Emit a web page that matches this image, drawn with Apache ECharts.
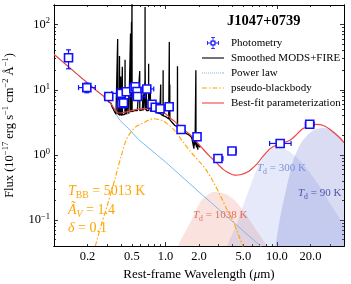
<!DOCTYPE html>
<html><head><meta charset="utf-8">
<script src="https://cdn.jsdelivr.net/npm/echarts@6/dist/echarts.min.js"></script>
<style>html,body{margin:0;padding:0;background:#fff}#c{width:351px;height:284px}</style>
</head><body><div id="c"></div>
<script>
// ---------- data ----------
const xTickLabels = [0.2, 0.5, 1, 2, 5, 10, 20];
const yTickLabels = [0.1, 1, 10, 100];

const specWave = [
 0.280,0.285,0.290,0.295,0.300,0.305,0.310,0.315,0.320,0.325,
 0.330,0.335,0.340,0.345,0.350,0.355,0.360,0.365,0.3705,0.3718,
 0.3727,0.3736,0.3760,0.3790,0.3798,0.3806,0.3827,0.3835,0.3843,0.3860,
 0.3869,0.3878,0.3889,0.3900,0.3930,0.3960,0.3969,0.3978,0.4015,0.4026,
 0.4037,0.4090,0.4102,0.4114,0.4180,0.4250,0.4330,0.4340,0.4350,0.4363,
 0.4375,0.4450,0.4471,0.4490,0.4580,0.4676,0.4686,0.4696,0.4780,0.4849,
 0.4861,0.4873,0.4946,0.4959,0.4972,0.4990,0.5007,0.5024,0.5100,0.5200,
 0.5300,0.5400,0.5500,0.5600,0.5700,0.5800,0.5864,0.5876,0.5888,0.6000,
 0.6100,0.6200,0.6285,0.6300,0.6315,0.6400,0.6530,0.6548,0.6553,0.6563,
 0.6575,0.6583,0.6595,0.6650,0.6706,0.6716,0.6724,0.6731,0.6741,0.6850,
 0.6950,0.7052,0.7065,0.7078,0.7150,0.7310,0.7325,0.7340,0.7500,0.7700,
 0.7900,0.8100,0.8300,0.8500,0.8700,0.8900,0.9053,0.9069,0.9085,0.9250,
 0.9400,0.9515,0.9531,0.9547,0.9700,0.9900,1.0100,1.0300,1.0500,1.0700,
 1.0810,1.0830,1.0850,1.0918,1.0938,1.0958,1.1100,1.1300,1.1500,1.1700,
 1.1900,1.2100,1.2300,1.2500,1.2795,1.2820,1.2845,1.3000,1.3200,1.3400,
 1.3600,1.4000,1.4400,1.4800,1.5200,1.5600,1.6000,1.6400,1.6800,1.7200,
 1.7500,1.7800,1.8000,1.8100,1.8300,1.8450,1.8700,1.8751,1.8800,1.9000,
 1.9100,1.9300,1.9500,1.9600,1.9900,2.0200,2.0500];
const specFlux = [
 7.5,7.8,7.2,7.4,6.9,7.1,6.5,6.7,6.1,6.2,
 5.6,5.7,5.1,4.9,4.6,4.4,4.2,4.3,4.1,4.2,
 60,4.2,4.0,4.1,7,4.1,4.1,9,4.1,4.1,
 33,4.1,12,4.0,4.0,4.1,16,4.1,4.0,7,
 4.0,4.1,22.5,4.1,4.1,4.2,4.2,29,4.2,9,
 4.2,4.2,7,4.2,4.3,4.3,8,4.3,4.4,4.5,
 73,4.5,4.6,110,4.6,4.6,300,4.6,4.7,4.7,
 4.8,4.7,4.8,4.8,4.8,4.8,4.8,19.4,4.8,4.9,
 4.8,4.9,4.8,8.5,4.8,4.9,4.9,14,5.3,186,
 6,20,4.9,4.9,4.8,11,6,9,4.8,4.8,
 4.8,4.8,25,4.8,4.8,4.7,10,4.7,4.7,4.7,
 4.6,4.6,4.5,4.4,4.3,4.3,4.2,12,4.2,4.1,
 4.1,4.0,20,4.0,3.9,3.85,3.85,3.75,3.65,3.55,
 3.55,54,3.55,3.55,12,3.45,3.35,3.25,3.15,3.05,
 2.95,2.85,2.85,2.75,2.7,23,2.7,2.65,2.6,2.5,
 2.45,2.35,2.3,2.25,2.15,2.1,2.05,2.0,1.95,1.85,
 1.8,1.75,1.25,1.7,1.4,1.65,1.6,20,1.6,1.3,
 1.55,1.5,1.2,1.45,1.4,1.35,1.3];

const plWave = [0.1, 0.2, 0.28, 0.33, 0.345, 0.39, 0.47, 0.574, 1.0, 2.0, 5.0, 7.1, 10];
const plFlux = [35, 12.7, 7.9, 5.9, 4.7, 3.4, 2.5, 1.72, 0.78, 0.27, 0.068, 0.04, 0.024];

const bbWave = [0.22,0.235,0.26,0.3,0.355,0.4,0.445,0.5,0.55,0.636,0.7,0.78,0.9,1.03,1.2,1.45,1.7,2.0,2.3,2.7,3.1,3.6,4.0,4.6,5.0,5.5];
const bbFlux = [0.028,0.04,0.075,0.165,0.45,0.95,1.7,2.35,2.75,3.1,3.4,3.6,3.45,3.05,2.4,1.55,1.1,0.8,0.6,0.38,0.24,0.14,0.1,0.055,0.038,0.025];

const bfWave = [0.1,0.15,0.2,0.25,0.28,0.30,0.32,0.34,0.36,0.38,0.40,0.45,0.5,0.55,0.6,0.65,0.7,0.8,0.9,1.0,1.1,1.2,1.3,1.45,1.67,1.9,2.2,2.5,2.7,3.0,3.3,3.7,4.2,4.8,5.5,6.0,6.6,7.5,8.7,10,11,13.2,15,16.2,18,20,22,24.5,27,30,34,37,40];
const bfFlux = [35,19.3,12.7,9.2,7.9,7.2,6.3,5.4,4.7,4.4,4.4,4.6,4.8,5.0,5.1,5.15,5.1,4.9,4.6,4.3,3.7,3.3,2.9,2.45,2.05,1.6,1.2,0.95,0.84,0.70,0.60,0.53,0.49,0.50,0.55,0.62,0.72,0.95,1.25,1.42,1.5,1.7,2.05,2.35,2.65,2.85,2.95,2.92,2.75,2.45,2.05,1.8,1.55];

const d1038Wave = [1.1,1.3,1.66,2.05,2.4,2.7,3.1,3.57,4.2,4.7,5.5,6.2,7.2,8.1,9.5];
const d1038Flux = [0.015,0.04,0.09,0.19,0.245,0.27,0.265,0.245,0.2,0.16,0.11,0.08,0.055,0.04,0.025];
const d300Wave = [3.0,3.57,4.4,5.0,5.77,6.6,7.5,8.7,9.7,11,13,15,17.5,20,25,30,35,40,45];
const d300Flux = [0.015,0.04,0.09,0.17,0.33,0.6,0.9,1.22,1.3,1.28,1.12,0.92,0.7,0.52,0.3,0.18,0.12,0.08,0.06];
const d90Wave = [9.0,9.7,10.7,12.3,14.1,16.2,19,22,26,30,35,40,45];
const d90Flux = [0.02,0.04,0.11,0.33,0.85,1.45,2.05,2.45,2.6,2.5,2.1,1.6,1.2];

const photWave = [0.135,0.197,0.31,0.405,0.42,0.40,0.445,0.52,0.535,0.555,0.56,0.68,0.757,0.81,0.895,1.08,1.38,1.92,2.96,3.95,10.7,19.7];
const photFlux = [31,10.8,7.9,6.1,6.3,8.8,9.3,10.5,11.1,9.4,7.9,10.3,6.0,5.4,5.1,5.5,2.45,1.9,0.88,1.15,1.5,2.95];
const photWaveLo = [0.13,0.166,0.297,0.392,0.407,0.33,0.43,0.505,0.515,0.535,0.47,0.615,0.735,0.79,0.87,1.05,1.33,1.84,2.76,3.76,8.6,18.0];
const photWaveHi = [0.14,0.235,0.323,0.418,0.433,0.46,0.46,0.535,0.555,0.575,0.66,0.785,0.78,0.83,0.92,1.11,1.43,2.0,3.28,4.32,13.4,21.6];
const photFluxLo = [21,9.0,7.4,5.8,6.0,8.4,8.8,10.0,10.5,9.0,7.5,9.8,5.7,5.1,4.8,5.2,2.3,1.8,0.83,1.09,1.45,2.85];
const photFluxHi = [41,12.6,8.4,6.4,6.6,9.2,9.8,11.0,11.7,9.8,8.3,10.8,6.3,5.7,5.4,5.8,2.6,2.0,0.93,1.21,1.55,3.05];

// ---------- chart ----------
const F = 'Liberation Serif';
const xMin = 0.1, xMax = 40, yMin = 0.04, yMax = 200;
const xMajorTicks = [0.1, 1, 10];
const xMinorTicks = [0.2,0.3,0.4,0.5,0.6,0.7,0.8,0.9,2,3,4,5,6,7,8,9,20,30,40];
const yMajorTicks = [0.1, 1, 10, 100];
const yMinorTicks = [0.04,0.05,0.06,0.07,0.08,0.09,0.2,0.3,0.4,0.5,0.6,0.7,0.8,0.9,2,3,4,5,6,7,8,9,20,30,40,50,60,70,80,90,200];

const zip = (a, b) => a.map((v, i) => [v, b[i]]);

function axisBase(type, min, max, pos, ticks, len) {
  return {
    type: 'log', logBase: 10, min: min, max: max, position: pos,
    axisLine: {show: true, onZero: false, lineStyle: {color: '#000', width: 1}},
    axisTick: {show: true, inside: true, length: len, customValues: ticks, lineStyle: {color: '#000', width: 0.8}},
    axisLabel: {show: false},
    splitLine: {show: false}, minorTick: {show: false}, minorSplitLine: {show: false}
  };
}

const xMain = axisBase('x', xMin, xMax, 'bottom', xMajorTicks, 4);
xMain.axisLabel = {
  show: true, customValues: xTickLabels, margin: 4,
  fontFamily: F, fontSize: 12.5, color: '#000',
  formatter: v => Number(v).toFixed(1)
};
xMain.name = 'Rest-frame Wavelength ({it|μ}m)';
xMain.nameLocation = 'middle';
xMain.nameGap = 15;
xMain.nameTextStyle = {fontFamily: F, fontSize: 13, color: '#000', verticalAlign: 'top',
  rich: {it: {fontFamily: F, fontSize: 13, fontStyle: 'italic', color: '#000'}}};

const yMain = axisBase('y', yMin, yMax, 'left', yMajorTicks, 4);
yMain.axisLabel = {
  show: true, customValues: yTickLabels, margin: 4, color: '#000',
  formatter: v => { const e = Math.round(Math.log10(v)); return '{b|10}{s|' + (e < 0 ? '\u2212' + (-e) : e) + '}'; },
  rich: {
    b: {fontFamily: F, fontSize: 12.5, lineHeight: 16, color: '#000'},
    s: {fontFamily: F, fontSize: 8.5, lineHeight: 9, verticalAlign: 'top', color: '#000'}
  }
};
yMain.name = 'Flux (10{s|\u221217} erg s{s|\u22121} cm{s|\u22122} \u00C5{s|\u22121})';
yMain.nameLocation = 'middle';
yMain.nameGap = 31;
yMain.nameRotate = 90;
yMain.nameTextStyle = {fontFamily: F, fontSize: 12.5, color: '#000', lineHeight: 16,
  rich: {s: {fontFamily: F, fontSize: 8.5, lineHeight: 9, verticalAlign: 'top', color: '#000'}}};

const photIcon = 'path://M3.5 3.5H8.5V8.5H3.5Z M4.7 4.7V7.3H7.3V4.7Z M0 5.6H3.5V6.4H0Z M8.5 5.6H12V6.4H8.5Z M0 4H0.8V8H0Z M11.2 4H12V8H11.2Z M5.6 0H6.4V3.5H5.6Z M5.6 8.5H6.4V12H5.6Z M4 0H8V0.8H4Z M4 11.2H8V12H4Z';
const solidIcon = 'path://M0 0H22V1.1H0Z';
const dottedIcon = 'path://M0 0H1V1H0Z M2 0H3V1H2Z M4 0H5V1H4Z M6 0H7V1H6Z M8 0H9V1H8Z M10 0H11V1H10Z M12 0H13V1H12Z M14 0H15V1H14Z M16 0H17V1H16Z M18 0H19V1H18Z M20 0H21V1H20Z M21 0H22V1H21Z';
const dashDotIcon = 'path://M0 0H5V1.1H0Z M7 0H8.5V1.1H7Z M10.5 0H15.5V1.1H10.5Z M17.5 0H19V1.1H17.5Z M21 0H22V1.1H21Z';

const photData = photWave.map((w, i) => [w, photFlux[i], photWaveLo[i], photWaveHi[i], photFluxLo[i], photFluxHi[i]]);

function renderErr(params, api) {
  const x = api.value(0), y = api.value(1);
  const pL = api.coord([api.value(2), y]), pH = api.coord([api.value(3), y]);
  const pB = api.coord([x, api.value(4)]), pT = api.coord([x, api.value(5)]);
  const c = 2.5;
  const st = {stroke: '#1010ff', lineWidth: 1.2};
  const ln = (x1, y1, x2, y2) => ({type: 'line', shape: {x1, y1, x2, y2}, style: st});
  return {type: 'group', children: [
    ln(pL[0], pL[1], pH[0], pH[1]),
    ln(pL[0], pL[1] - c, pL[0], pL[1] + c),
    ln(pH[0], pH[1] - c, pH[0], pH[1] + c),
    ln(pB[0], pB[1], pT[0], pT[1]),
    ln(pB[0] - c, pB[1], pB[0] + c, pB[1]),
    ln(pT[0] - c, pT[1], pT[0] + c, pT[1])
  ]};
}

const dustSeries = (name, w, f, color, op) => ({
  type: 'line', name: name, data: zip(w, f), symbol: 'none', smooth: 0.3, silent: true,
  lineStyle: {width: 0, opacity: 0}, areaStyle: {color: color, opacity: op, origin: 'start'}, z: 1
});

const orange = '#ffa500';
const rich = (fs, color) => ({
  i: {fontFamily: F, fontSize: fs, fontStyle: 'italic', fill: color, lineHeight: fs + 4, verticalAlign: 'middle'},
  n: {fontFamily: F, fontSize: fs, fill: color, lineHeight: fs + 4, verticalAlign: 'middle'},
  sb: {fontFamily: F, fontSize: fs * 0.7, fill: color, lineHeight: fs * 0.7, verticalAlign: 'bottom'},
  si: {fontFamily: F, fontSize: fs * 0.7, fontStyle: 'italic', fill: color, lineHeight: fs * 0.7, verticalAlign: 'bottom'}
});
const txt = (x, y, text, fs, color) => ({
  type: 'text', x: x, y: y, silent: true, z: 10,
  style: {text: text, fill: color, fontFamily: F, fontSize: fs, textAlign: 'left', textVerticalAlign: 'middle', rich: rich(fs, color)}
});

const option = {
  animation: false,
  backgroundColor: '#fff',
  textStyle: {fontFamily: F},
  grid: {left: 54, right: 7, top: 5, bottom: 38, containLabel: false, outerBoundsMode: 'none'},
  title: {text: 'J1047+0739', left: 227, top: 14, padding: 0,
    textStyle: {fontFamily: F, fontSize: 14.5, fontWeight: 'bold', color: '#000'}},
  legend: {
    orient: 'vertical', left: 202, top: 37, padding: 0,
    itemWidth: 22, itemHeight: 12, itemGap: 3, selectedMode: false,
    textStyle: {fontFamily: F, fontSize: 11, color: '#000', lineHeight: 12, padding: [0, 0, 0, 2]},
    data: [
      {name: 'Photometry', icon: photIcon, itemStyle: {color: '#1010ff', borderWidth: 0}},
      {name: 'Smoothed MODS+FIRE', icon: solidIcon, itemStyle: {color: '#000', borderWidth: 0}},
      {name: 'Power law', icon: dottedIcon, itemStyle: {color: '#7db9ee', borderWidth: 0}},
      {name: 'pseudo-blackbody', icon: dashDotIcon, itemStyle: {color: '#ffa500', borderWidth: 0}},
      {name: 'Best-fit parameterization', icon: solidIcon, itemStyle: {color: '#ee4444', borderWidth: 0}}
    ]
  },
  xAxis: [
    xMain,
    axisBase('x', xMin, xMax, 'bottom', xMinorTicks, 2),
    axisBase('x', xMin, xMax, 'top', xMajorTicks, 4),
    axisBase('x', xMin, xMax, 'top', xMinorTicks, 2)
  ],
  yAxis: [
    yMain,
    axisBase('y', yMin, yMax, 'left', yMinorTicks, 2),
    axisBase('y', yMin, yMax, 'right', yMajorTicks, 4),
    axisBase('y', yMin, yMax, 'right', yMinorTicks, 2)
  ],
  series: [
    dustSeries('d1038', d1038Wave, d1038Flux, '#e8735f', 0.2),
    dustSeries('d300', d300Wave, d300Flux, '#6f86e0', 0.18),
    dustSeries('d90', d90Wave, d90Flux, '#5060c8', 0.22),
    {type: 'line', name: 'Power law', data: zip(plWave, plFlux), symbol: 'none', z: 2,
      lineStyle: {color: '#7db9ee', width: 1}, itemStyle: {color: '#7db9ee'}},
    {type: 'line', name: 'pseudo-blackbody', data: zip(bbWave, bbFlux), symbol: 'none', smooth: 0.3, z: 2,
      lineStyle: {color: orange, width: 1.1, type: [5, 2, 1.5, 2]}, itemStyle: {color: orange}},
    {type: 'line', name: 'Smoothed MODS+FIRE', data: zip(specWave, specFlux), symbol: 'none', z: 3,
      lineStyle: {color: '#000', width: 1.3}, itemStyle: {color: '#000'}},
    {type: 'line', name: 'Best-fit parameterization', data: zip(bfWave, bfFlux), symbol: 'none', smooth: 0.3, z: 4,
      lineStyle: {color: '#ee4444', width: 1.2}, itemStyle: {color: '#ee4444'}},
    {type: 'custom', name: 'photErr', renderItem: renderErr, data: photData,
      encode: {x: [0, 2, 3], y: [1, 4, 5]}, z: 5, silent: true},
    {type: 'scatter', name: 'Photometry', data: zip(photWave, photFlux), symbol: 'rect', symbolSize: 8, z: 6,
      itemStyle: {color: '#fff', borderColor: '#1010ff', borderWidth: 1.6, opacity: 1}}
  ],
  graphic: [
    txt(68, 191, '{i|T}{sb|BB}{n| = 5013 K}', 14, orange),
    txt(68, 210, '{i|\u00C3}{si|V}{n| = 1.4}', 14, orange),
    txt(68, 228, '{i|\u03B4}{n| = 0.1}', 14, orange),
    txt(193, 215, '{i|T}{sb|d}{n| = 1038 K}', 11, '#e0705e'),
    txt(257, 168, '{i|T}{sb|d}{n| = 300 K}', 11, '#7d8fd8'),
    txt(298, 193, '{i|T}{sb|d}{n| = 90 K}', 11, '#4a55a8')
  ]
};

const chart = echarts.init(document.getElementById('c'), null, {renderer: 'canvas'});
chart.setOption(option);
</script>
</body></html>
